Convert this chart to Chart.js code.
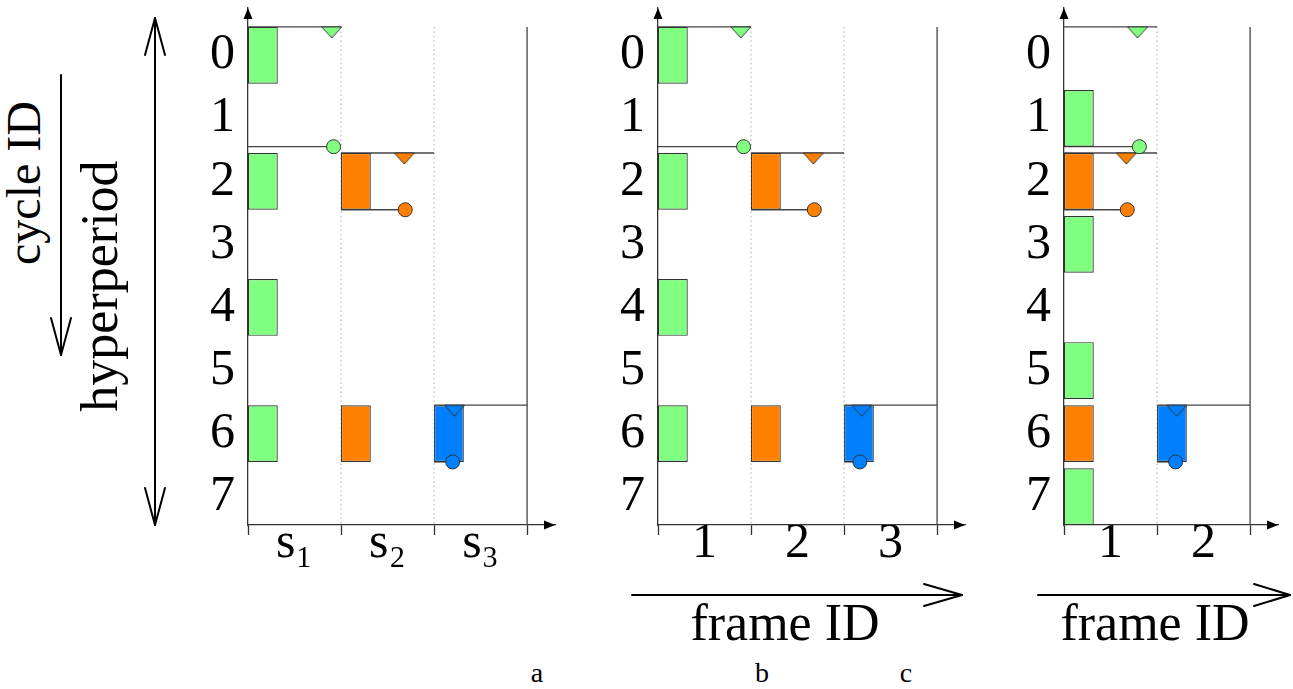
<!DOCTYPE html>
<html>
<head>
<meta charset="utf-8">
<script src="https://cdn.jsdelivr.net/npm/chart.js@4.4.1/dist/chart.umd.min.js"></script>
<style>
html,body{margin:0;padding:0;background:#fff;width:1293px;height:689px;overflow:hidden;position:relative;font-family:"Liberation Serif","Times New Roman",Times,"DejaVu Serif","Noto Serif",serif;}
canvas{position:absolute;top:0;}
svg{position:absolute;left:0;top:0;}
.t{position:absolute;white-space:nowrap;line-height:1;color:#000;transform:translate(-50%,-50%);}
.r{transform:translate(-50%,-50%) rotate(-90deg);}
</style>
</head>
<body>
<svg width="1293" height="689">
  <g stroke="#000" stroke-width="2" fill="none" stroke-linecap="round" stroke-linejoin="round">
    <line x1="61" y1="75" x2="61" y2="355"/>
    <polyline points="51,318 61,355 71,318"/>
    <line x1="155" y1="18" x2="155" y2="525"/>
    <polyline points="145,55 155,18 165,55"/>
    <polyline points="145,488 155,525 165,488"/>
    <line x1="632" y1="595" x2="962" y2="595"/>
    <polyline points="924,584 962,595 924,606"/>
    <line x1="1038" y1="595" x2="1290" y2="595"/>
    <polyline points="1254,584 1290,595 1254,606"/>
  </g>
</svg>
<div class="t r" style="left:24px;top:183px;font-size:48px;">cycle ID</div>
<div class="t r" style="left:100px;top:286px;font-size:52px;">hyperperiod</div>
<div class="t" style="left:785px;top:623px;font-size:52px;">frame ID</div>
<div class="t" style="left:1155px;top:623px;font-size:52px;">frame ID</div>
<div class="t" style="left:537px;top:673px;font-size:28px;">a</div>
<div class="t" style="left:762px;top:673px;font-size:28px;">b</div>
<div class="t" style="left:906px;top:673px;font-size:28px;">c</div>

<canvas id="ca" width="400" height="580" style="left:170px"></canvas>
<canvas id="cb" width="400" height="580" style="left:580px"></canvas>
<canvas id="cc" width="307" height="580" style="left:986px"></canvas>

<script>
// ---------- data ----------
const CYCLES = [0, 1, 2, 3, 4, 5, 6, 7];
const LABELS_A = ['s\u2081', 's\u2082', 's\u2083'];
const LABELS_B = ['1', '2', '3'];
const LABELS_C = ['1', '2'];

// cycles in which each stream (green, orange, blue) is transmitted
const A_SEND = [[0, 2, 4, 6], [2, 6], [6]];
const B_SEND = [[0, 2, 4, 6], [2, 6], [6]];
const C_SEND = [[1, 3, 5, 7], [2, 6], [6]];
// frame (column) used by each stream
const A_FRAME = [0, 1, 2];
const B_FRAME = [0, 1, 2];
const C_FRAME = [0, 0, 1];
// release cycle and deadline cycle of each stream
const RELEASE_CYCLE = [0, 2, 6];
const DEADLINE_CYCLE = [1, 2, 6];
// release (triangle) and deadline (circle) positions along the frame axis
const A_REL_X = [0.90, 1.68, 2.22];
const A_DL_X  = [0.92, 1.69, 2.20];
const B_REL_X = [0.89, 1.67, 2.19];
const B_DL_X  = [0.92, 1.68, 2.17];
const C_REL_X = [0.79, 0.67, 1.21];
const C_DL_X  = [0.81, 0.68, 1.20];

// ---------- style ----------
const ROW_SLOT = 0.9;      // portion of a cycle a transmission occupies
const BAR_FRAC = 0.32;     // bar width as fraction of a frame
const COLORS = ['#80ff80', '#ff8000', '#0080ff'];
const EDGE = '#333333';
const LINE = '#444444';
const FONT = '"Liberation Serif", "Times New Roman", Times, "DejaVu Serif", "Noto Serif", serif';

function triImg(color) {
  const c = document.createElement('canvas');
  c.width = 22; c.height = 24;
  const g = c.getContext('2d');
  g.beginPath();
  g.moveTo(1, 12); g.lineTo(21, 12); g.lineTo(11, 23); g.closePath();
  g.fillStyle = color; g.fill();
  g.lineWidth = 1; g.strokeStyle = EDGE; g.stroke();
  return c;
}
const TRI = COLORS.map(triImg);

const axisArrows = {
  id: 'axisArrows',
  afterDraw(chart) {
    const { ctx, chartArea: a } = chart;
    ctx.save();
    ctx.fillStyle = '#000';
    ctx.beginPath();
    ctx.moveTo(a.left, a.top);
    ctx.lineTo(a.left - 4.5, a.top + 11);
    ctx.lineTo(a.left + 4.5, a.top + 11);
    ctx.closePath(); ctx.fill();
    ctx.beginPath();
    ctx.moveTo(a.right, a.bottom);
    ctx.lineTo(a.right - 11, a.bottom - 4.5);
    ctx.lineTo(a.right - 11, a.bottom + 4.5);
    ctx.closePath(); ctx.fill();
    ctx.restore();
  }
};

function makePanel(id, labels, send, frames, relX, dlX) {
  const n = labels.length;
  const yEnd = CYCLES[CYCLES.length - 1] + ROW_SLOT;
  const datasets = [];

  // transmissions (floating bars)
  const barData = [], barColors = [];
  send.forEach((cyc, s) => cyc.forEach(c => {
    barData.push({ x: frames[s] + BAR_FRAC / 2, y: [c, c + ROW_SLOT] });
    barColors.push(COLORS[s]);
  }));
  datasets.push({
    type: 'bar', data: barData, backgroundColor: barColors,
    borderColor: EDGE, borderWidth: 1.2, borderSkipped: false,
    barPercentage: BAR_FRAC, categoryPercentage: 1, order: 2
  });

  // frame boundaries
  for (let b = 1; b <= n; b++) {
    datasets.push({
      type: 'line', data: [{ x: b, y: 0 }, { x: b, y: yEnd }],
      borderColor: b < n ? '#aaaaaa' : LINE, borderWidth: b < n ? 1 : 1.3,
      borderDash: b < n ? [1.5, 3] : [], pointRadius: 0, order: 4
    });
  }
  // release and deadline lines
  send.forEach((_, s) => {
    datasets.push({
      type: 'line',
      data: [{ x: frames[s], y: RELEASE_CYCLE[s] }, { x: frames[s] + 1, y: RELEASE_CYCLE[s] }],
      borderColor: LINE, borderWidth: 1.3, pointRadius: 0, order: 3
    });
    datasets.push({
      type: 'line',
      data: [{ x: frames[s], y: DEADLINE_CYCLE[s] + ROW_SLOT }, { x: dlX[s], y: DEADLINE_CYCLE[s] + ROW_SLOT }],
      borderColor: LINE, borderWidth: 1.3, pointRadius: 0, order: 3
    });
  });
  // markers
  send.forEach((_, s) => {
    datasets.push({
      type: 'scatter', data: [{ x: relX[s], y: RELEASE_CYCLE[s] }],
      pointStyle: TRI[s], order: 1
    });
    datasets.push({
      type: 'scatter', data: [{ x: dlX[s], y: DEADLINE_CYCLE[s] + ROW_SLOT }],
      pointStyle: 'circle', pointRadius: 7, backgroundColor: COLORS[s],
      borderColor: EDGE, borderWidth: 1, order: 0
    });
  });

  new Chart(document.getElementById(id), {
    type: 'bar',
    data: { datasets },
    plugins: [axisArrows],
    options: {
      responsive: false, animation: false, events: [],
      layout: { padding: { top: 7, right: 15, left: 0, bottom: 0 } },
      plugins: { legend: { display: false }, tooltip: { enabled: false } },
      scales: {
        x: {
          type: 'linear', min: 0, max: n + 0.3, offset: false,
          afterBuildTicks: ax => { ax.ticks = labels.map((_, i) => ({ value: i + 0.5 })); },
          afterFit: ax => { ax.height = 55; ax.paddingLeft = 0; ax.paddingRight = 0; ax.paddingTop = 0; ax.paddingBottom = 0; },
          grid: { display: true, offset: true, drawOnChartArea: false, drawTicks: true,
                  tickLength: 10, tickColor: EDGE, tickWidth: 1.3 },
          border: { display: true, color: EDGE, width: 1.3 },
          ticks: { autoSkip: false, maxRotation: 0, padding: -21, color: '#000',
                   font: { family: FONT, size: 50 }, callback: (v, i) => labels[i] }
        },
        y: {
          type: 'linear', reverse: true, min: -0.3, max: yEnd, bounds: 'data',
          afterBuildTicks: ax => { ax.ticks = CYCLES.map(c => ({ value: c + ROW_SLOT / 2 })); },
          afterFit: ax => { ax.width = 78; ax.paddingTop = 0; ax.paddingBottom = 0; ax.paddingLeft = 0; ax.paddingRight = 0; },
          grid: { display: false },
          border: { display: true, color: EDGE, width: 1.3 },
          ticks: { autoSkip: false, padding: 5, color: '#000',
                   font: { family: FONT, size: 50 }, callback: (v, i) => String(CYCLES[i]) }
        }
      }
    }
  });
}

makePanel('ca', LABELS_A, A_SEND, A_FRAME, A_REL_X, A_DL_X);
makePanel('cb', LABELS_B, B_SEND, B_FRAME, B_REL_X, B_DL_X);
makePanel('cc', LABELS_C, C_SEND, C_FRAME, C_REL_X, C_DL_X);
</script>
</body>
</html>
